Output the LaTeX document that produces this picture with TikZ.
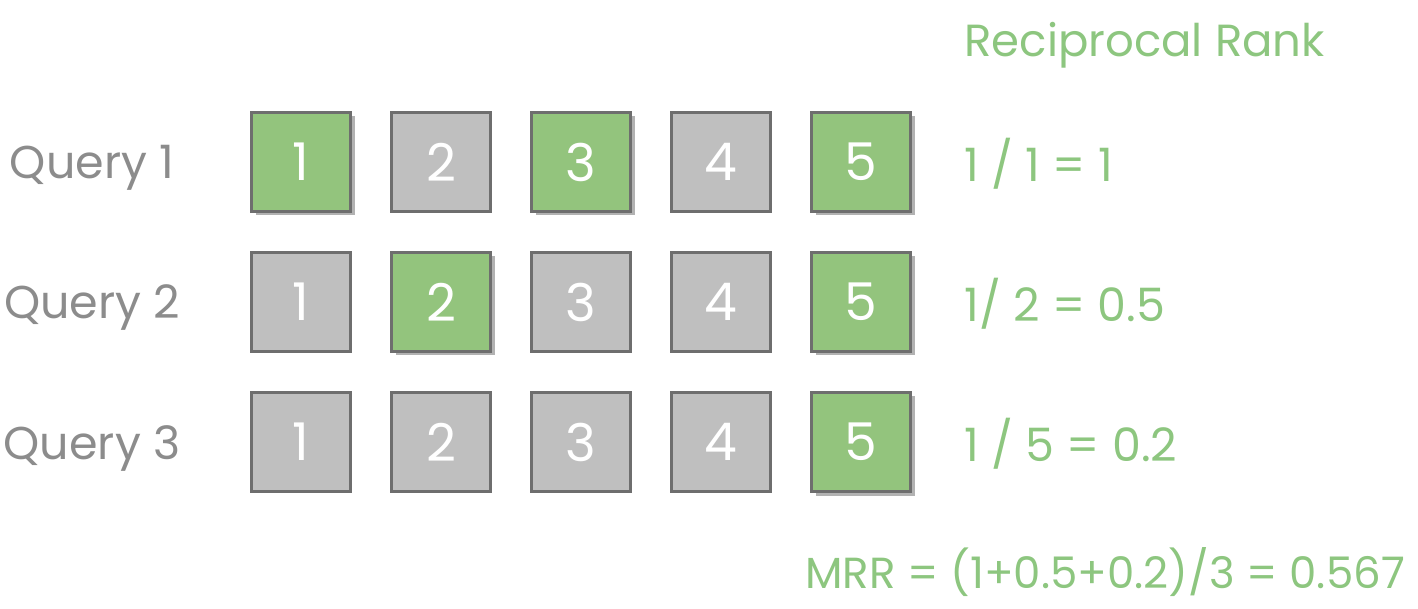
\documentclass[tikz,border=0pt]{standalone}
\usepackage{fontspec}
\setmainfont{Poppins}
\usepackage{tikz}
\usetikzlibrary{shadows}
\definecolor{hitgreen}{HTML}{93C47D}
\definecolor{missgray}{HTML}{BFBFBF}
\definecolor{edge}{HTML}{6E6E6E}
\definecolor{labelgray}{HTML}{8C8C8C}
\definecolor{rrgreen}{HTML}{8DC67F}

\begin{document}
\begin{tikzpicture}[
  x=1pt,y=1pt,
  every node/.style={font=\fontsize{46}{50}\selectfont},
  doc/.style={rectangle,draw=edge,line width=3pt,minimum size=99pt,inner sep=0pt,text=white,font=\fontsize{52}{56}\selectfont},
  hit/.style={doc,fill=hitgreen,drop shadow={shadow xshift=4pt,shadow yshift=-4pt,fill=black!30,opacity=1}},
  miss/.style={doc,fill=missgray},
  query/.style={text=labelgray,anchor=center},
  score/.style={text=rrgreen,anchor=west}
]
\useasboundingbox (0,0) rectangle (1418,608);
% header
\node[score,font=\fontsize{45}{49}\selectfont] (head) at (961,563) {Reciprocal Rank};
% query 1
\node[query] (q1) at (92,440) {Query 1};
\node[hit]  (a1) at (301,446) {1};
\node[miss] (a2) at (441,446) {2};
\node[hit]  (a3) at (581,446) {3};
\node[miss] (a4) at (721,446) {4};
\node[hit]  (a5) at (861,446) {5};
\node[score] (r1) at (961,444) {1 / 1 = 1};
% query 2
\node[query] (q2) at (92,300) {Query 2};
\node[miss] (b1) at (301,306) {1};
\node[hit]  (b2) at (441,306) {2};
\node[miss] (b3) at (581,306) {3};
\node[miss] (b4) at (721,306) {4};
\node[hit]  (b5) at (861,306) {5};
\node[score] (r2) at (961,304) {1/ 2 = 0.5};
% query 3
\node[query] (q3) at (92,160) {Query 3};
\node[miss] (c1) at (301,166) {1};
\node[miss] (c2) at (441,166) {2};
\node[miss] (c3) at (581,166) {3};
\node[miss] (c4) at (721,166) {4};
\node[hit]  (c5) at (861,166) {5};
\node[score] (r3) at (961,164) {1 / 5 = 0.2};
% mean
\node[score,font=\fontsize{43.5}{48}\selectfont] (mrr) at (802,36) {MRR = (1+0.5+0.2)/3 = 0.567};
\end{tikzpicture}
\end{document}
